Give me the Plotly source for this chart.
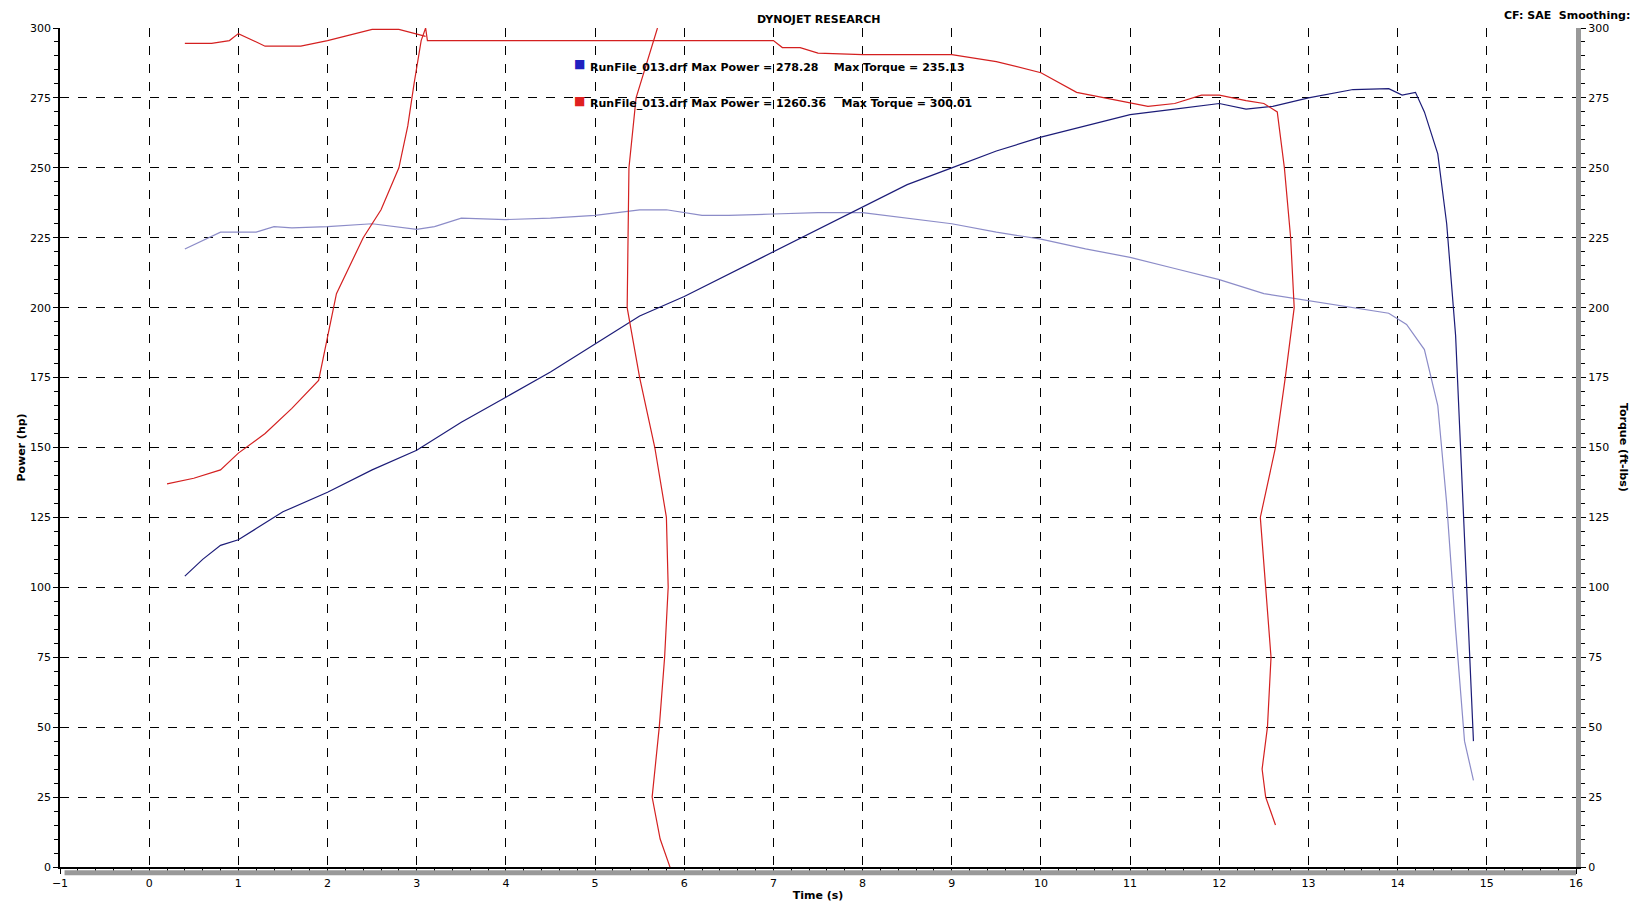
import plotly.graph_objects as go

pw_t = [0.4,0.6,0.8,1.0,1.2,1.5,2.0,2.5,3.0,3.2,3.5,4.0,4.5,5.0,5.5,6.0,6.5,7.0,7.5,8.0,8.5,9.0,9.5,10.0,10.5,11.0,11.5,12.0,12.3,12.6,13.0,13.5,13.9,14.05,14.2,14.3,14.45,14.55,14.65,14.75,14.85]
pw_v = [104,110,115,117,121,127,134,142,149,153,159,168,177,187,197,204,212,220,228,236,244,250,256,261,265,269,271,273,271,272,275,278,278.3,276,277,270,255,230,190,120,45]

tq_t = [0.4,0.6,0.8,1.0,1.2,1.4,1.6,2.0,2.5,3.0,3.2,3.5,4.0,4.5,5.0,5.5,5.8,6.2,6.5,7.0,7.5,8.0,8.5,9.0,9.5,10.0,10.5,11.0,11.5,12.0,12.5,13.0,13.5,13.9,14.1,14.3,14.45,14.55,14.65,14.75,14.85]
tq_v = [221,224,227,227,227,229,228.5,229,230,228,229,232,231.5,232,233,235,235,233,233,233.5,234,234,232,230,227,224.5,221,218,214,210,205,202.5,200,198,194,185,165,130,85,45,31]

# red trace (wrapping channel), segments separated by None
red_t = [0.4,0.7,0.9,1.0,1.3,1.7,2.0,2.5,2.8,3.1, None,
         0.2,0.5,0.8,1.0,1.3,1.6,1.9,2.0,2.1,2.4,2.6,2.8,2.9,2.97,3.05,3.1,3.12,
         7.0,7.1,7.3,7.5,8.0,9.0,9.5,10.0,10.4,10.8,11.2,11.5,11.8,12.0,12.3,12.5,12.55,12.6,12.65,12.73,12.8,12.84,12.74,12.63,12.46,12.52,12.58,12.54,12.48,12.52,12.63, None,
         5.7,5.46,5.38,5.36,5.5,5.67,5.8,5.82,5.78,5.72,5.64,5.73,5.84,5.84]
red_v = [294.5,294.5,295.5,298,293.5,293.5,295.5,299.5,299.5,297, None,
         137,139,142,148,155,164,174,190,205,225,235,250,265,280,295.5,300,295.5,
         295.5,293,293,291,290.5,290.5,288,284,277,274.5,272,273,276,276,274,273,272,271,270,250,225,200,175,150,125,100,75,50,35,25,15, None,
         300,275,250,200,175,150,125,100,75,50,25,10,0,-2]

fig = go.Figure()
fig.add_trace(go.Scatter(x=tq_t, y=tq_v, mode="lines", line=dict(color="#8c8cc8", width=1.2)))
fig.add_trace(go.Scatter(x=pw_t, y=pw_v, mode="lines", line=dict(color="#1c1c78", width=1.2)))
fig.add_trace(go.Scatter(x=red_t, y=red_v, mode="lines", line=dict(color="#d42020", width=1.2), connectgaps=False))
fig.add_trace(go.Scatter(x=[None], y=[None], yaxis="y2"))

f = dict(family="DejaVu Sans", size=11, color="black")
ax = dict(showline=True, linecolor="black", linewidth=1.5, mirror=False,
          gridcolor="black", griddash="dash", gridwidth=1, zeroline=False,
          ticks="outside", ticklen=5, tickcolor="black", tickfont=f)
fig.update_layout(
    width=1640, height=904, plot_bgcolor="white", paper_bgcolor="white", showlegend=False,
    margin=dict(l=49, r=72, t=20, b=33),
    font=f,
    xaxis=dict(**ax, range=[-1, 16], dtick=1, minor=dict(dtick=0.2, ticks="outside", ticklen=4, tickcolor="black", showgrid=False),
               title=dict(text="<b>Time (s)</b>", standoff=2, font=f)),
    yaxis=dict(**ax, range=[0, 300], dtick=25, minor=dict(dtick=5, ticks="outside", ticklen=4, tickcolor="black", showgrid=False),
               title=dict(text="<b>Power (hp)</b>", standoff=2, font=f)),
    yaxis2=dict(overlaying="y", side="right", range=[0, 300], dtick=25, showgrid=False, zeroline=False,
                showline=True, linecolor="#999999", linewidth=5, ticks="outside", ticklen=5, tickcolor="black",
                minor=dict(dtick=5, ticks="outside", ticklen=4, tickcolor="black"), tickfont=f),
)
fig.add_shape(type="line", xref="paper", yref="paper", x0=0.003, x1=1, y0=-0.007, y1=-0.007, line=dict(color="#999999", width=5))
fig.add_annotation(text="<b>DYNOJET RESEARCH</b>", xref="paper", yref="paper", x=0.5, y=1.0, yanchor="bottom", showarrow=False, font=f)
fig.add_annotation(text="<b>CF: SAE  Smoothing: 5</b>", xref="paper", x=1.045, xanchor="right", yref="paper", y=1.005, yanchor="bottom", showarrow=False, font=f)
fig.add_annotation(text="<b>Torque (ft-lbs)</b>", xref="paper", yref="paper", x=1.037, y=0.5, textangle=90, showarrow=False, font=f)
fig.add_annotation(text="<b>■</b>", x=4.83, y=287, showarrow=False, font=dict(family="DejaVu Sans", size=12, color="#2020c0"))
fig.add_annotation(text="<b>RunFile_013.drf Max Power = 278.28    Max Torque = 235.13</b>", x=4.92, y=286, xanchor="left", showarrow=False, font=f)
fig.add_annotation(text="<b>■</b>", x=4.83, y=274, showarrow=False, font=dict(family="DejaVu Sans", size=12, color="#e02020"))
fig.add_annotation(text="<b>RunFile_013.drf Max Power = 1260.36    Max Torque = 300.01</b>", x=4.92, y=273, xanchor="left", showarrow=False, font=f)
fig.write_html("out.html")
